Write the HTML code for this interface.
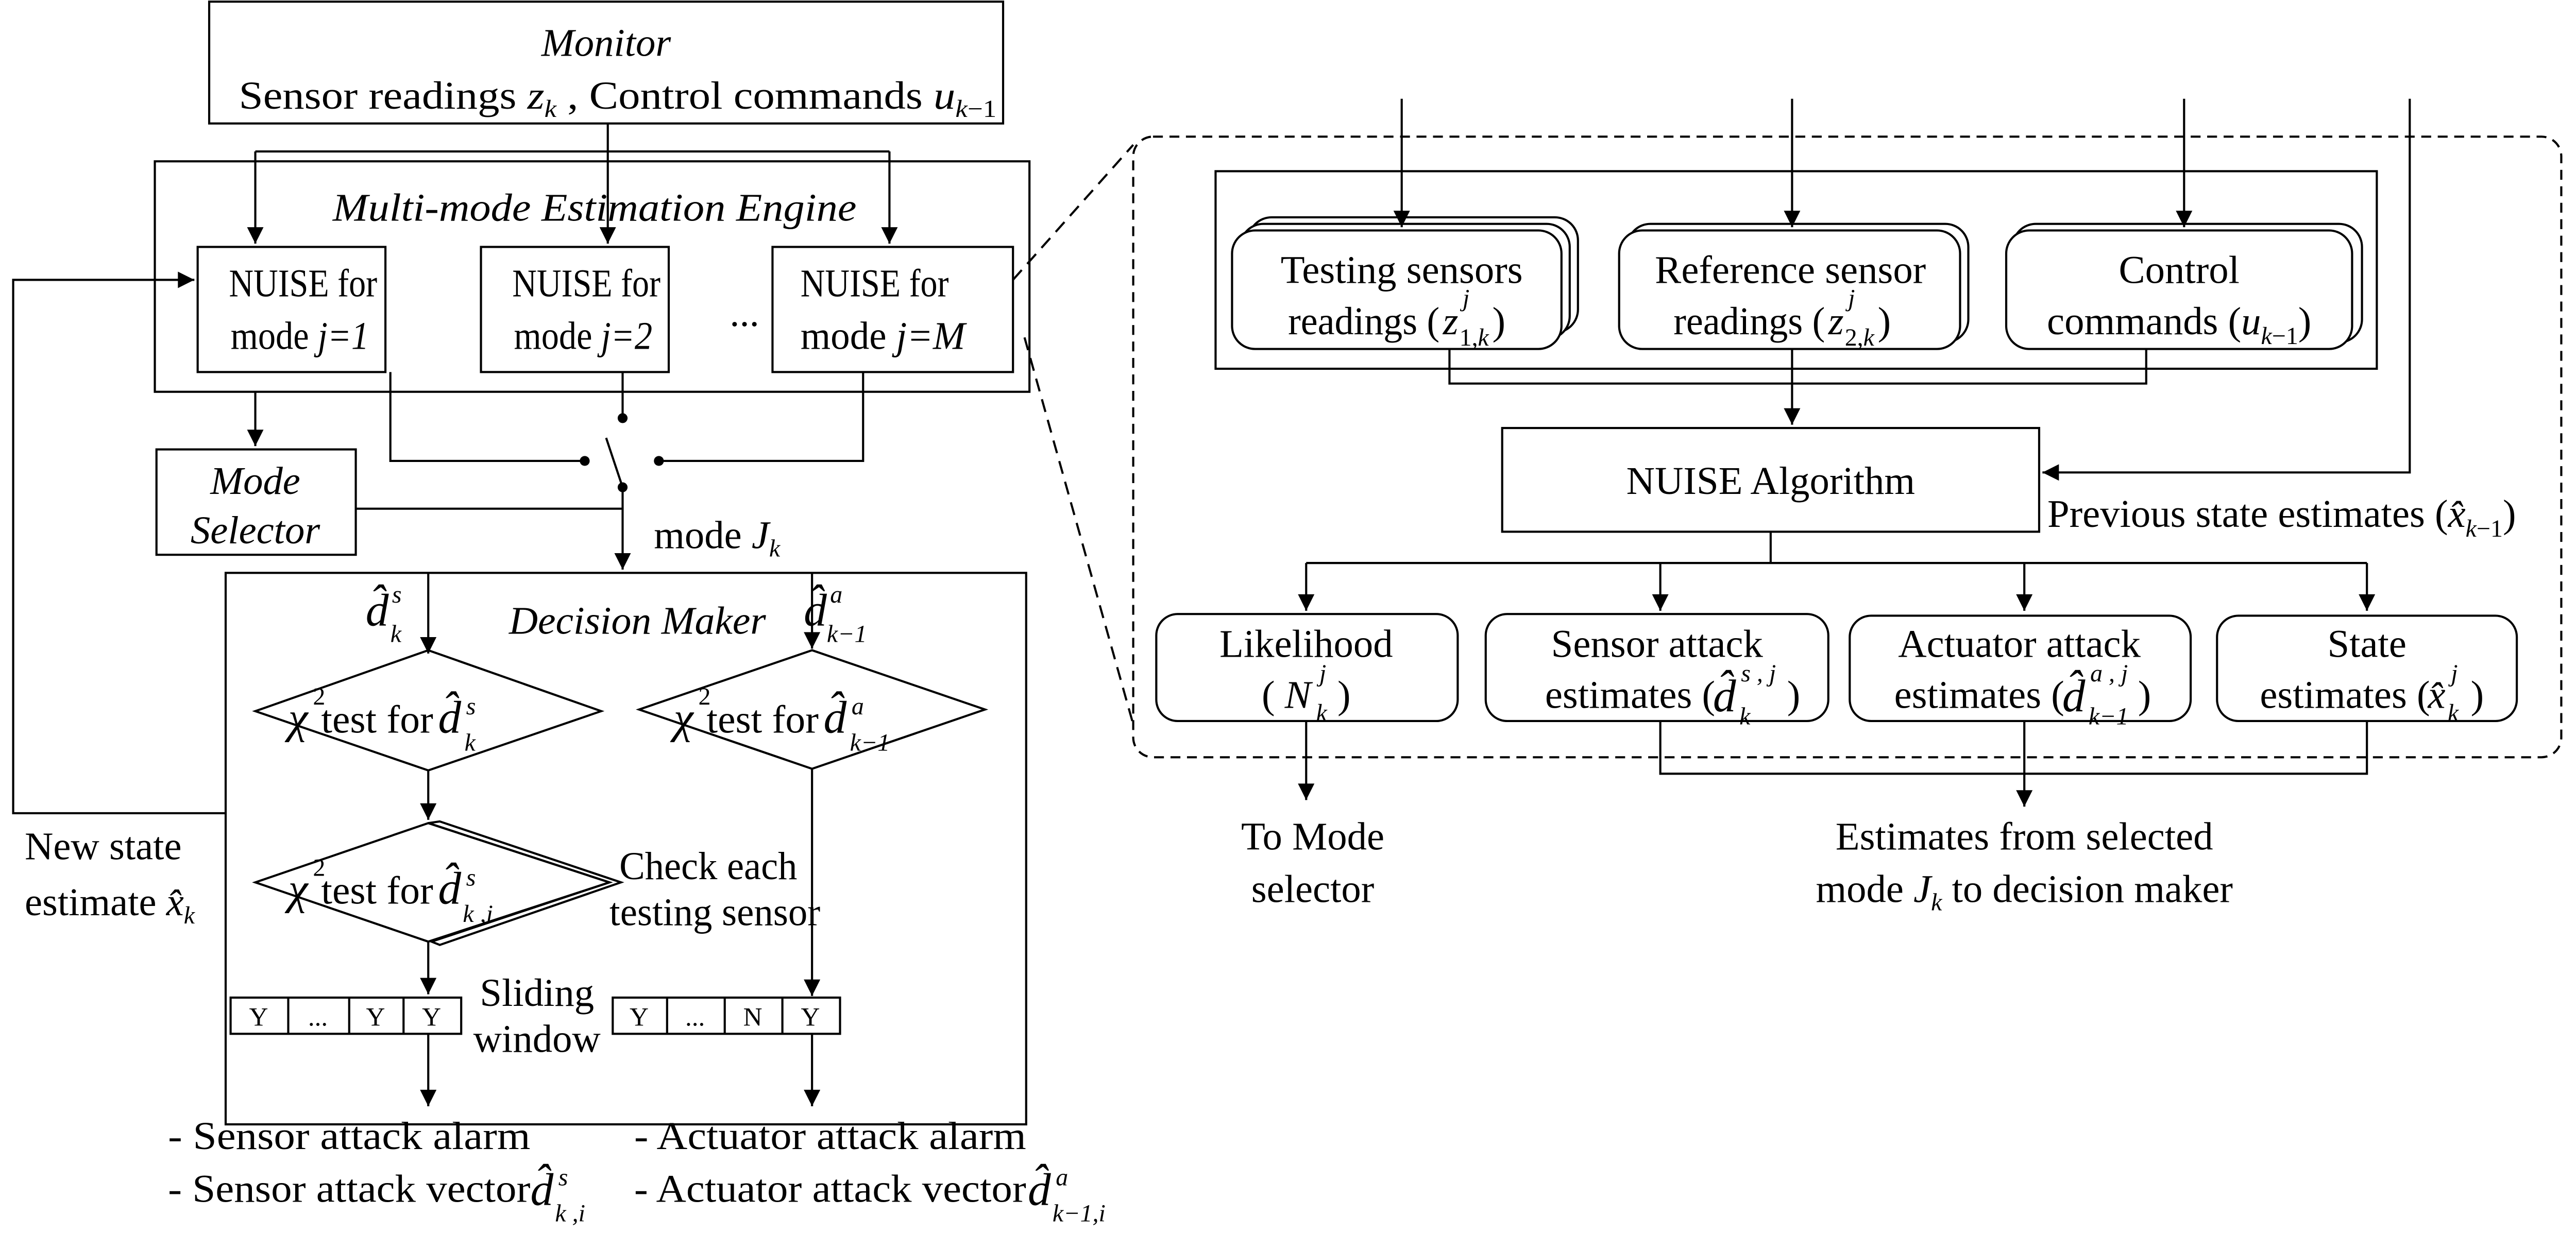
<!DOCTYPE html>
<html><head><meta charset="utf-8"><style>
html,body{margin:0;padding:0;background:#fff;}
svg{display:block;}
text{font-family:"Liberation Serif",serif;fill:#000;}
.i{font-style:italic;}
</style></head><body>
<svg width="5013" height="2394" viewBox="0 0 1568 749" preserveAspectRatio="none" xmlns="http://www.w3.org/2000/svg">
<defs>
<marker id="b" viewBox="0 0 10 10" refX="10" refY="5" markerWidth="14" markerHeight="10" markerUnits="userSpaceOnUse" orient="auto"><path d="M0,0 L10,5 L0,10 z" fill="#000"/></marker>
</defs>
<g fill="none" stroke="#000" stroke-width="1.3">
<rect x="127" y="1" width="482" height="74"/>
<rect x="94" y="98" width="531" height="140"/>
<rect x="120" y="150" width="114" height="76"/>
<rect x="292" y="150" width="114" height="76"/>
<rect x="469" y="150" width="146" height="76"/>
<path d="M369 75 V148" marker-end="url(#b)"/>
<path d="M155 92 H540"/>
<path d="M155 92 V148" marker-end="url(#b)"/>
<path d="M540 92 V148" marker-end="url(#b)"/>
<path d="M137 494 H8 V170 H118" marker-end="url(#b)"/>
<path d="M155 238 V271" marker-end="url(#b)"/>
<rect x="95" y="273" width="121" height="64"/>
<path d="M216 309 H378"/>
<path d="M237 226 V280 H355"/>
<path d="M378 226 V254"/>
<path d="M524 226 V280 H400"/>
<path d="M378 296 L368 266"/>
<path d="M378 296 V346" marker-end="url(#b)"/>
<rect x="137" y="348" width="486" height="335"/>
<path d="M260 348 V397" marker-end="url(#b)"/>
<path d="M493 348 V394" marker-end="url(#b)"/>
<polygon points="260,395 365,432 260,468 155,432"/>
<polygon points="493,395 598,431 493,467 388,431"/>
<path d="M260 468 V498" marker-end="url(#b)"/>
<polygon points="267,499 377,536 267,574 262,572 370,536 260,500"/>
<polygon points="260,500 370,536 260,572 155,536"/>
<path d="M260 572 V604" marker-end="url(#b)"/>
<path d="M493 467 V605" marker-end="url(#b)"/>
<rect x="140" y="606" width="140" height="22"/>
<path d="M175 606 V628 M212 606 V628 M245 606 V628"/>
<rect x="372" y="606" width="138" height="22"/>
<path d="M405 606 V628 M440 606 V628 M475 606 V628"/>
<path d="M260 628 V672" marker-end="url(#b)"/>
<path d="M493 628 V672" marker-end="url(#b)"/>
<path d="M615 170 L688 88 M622 205 L688 440" stroke-dasharray="8,5"/>
<rect x="688" y="83" width="867" height="377" rx="12" stroke-dasharray="6,4"/>
<rect x="738" y="104" width="705" height="120"/>
<rect x="758" y="132" width="200" height="70" rx="14"/>
<rect x="753" y="136" width="200" height="70" rx="14" fill="#fff"/>
<rect x="748" y="140" width="200" height="72" rx="14" fill="#fff"/>
<rect x="988" y="136" width="207" height="72" rx="14"/>
<rect x="983" y="140" width="207" height="72" rx="14" fill="#fff"/>
<rect x="1222" y="136" width="212" height="72" rx="14"/>
<rect x="1218" y="140" width="210" height="72" rx="14" fill="#fff"/>
<path d="M851 60 V138" marker-end="url(#b)"/>
<path d="M1088 60 V138" marker-end="url(#b)"/>
<path d="M1326 60 V138" marker-end="url(#b)"/>
<path d="M1463 60 V287 H1240" marker-end="url(#b)"/>
<path d="M880 212 V233 H1303 V212"/>
<path d="M1088 212 V258" marker-end="url(#b)"/>
<rect x="912" y="260" width="326" height="63"/>
<path d="M1075 323 V342"/>
<path d="M793 342 H1437"/>
<path d="M793 342 V371" marker-end="url(#b)"/>
<path d="M1008 342 V371" marker-end="url(#b)"/>
<path d="M1229 342 V371" marker-end="url(#b)"/>
<path d="M1437 342 V371" marker-end="url(#b)"/>
<rect x="702" y="373" width="183" height="65" rx="13"/>
<rect x="902" y="373" width="208" height="65" rx="13"/>
<rect x="1123" y="374" width="207" height="64" rx="13"/>
<rect x="1346" y="374" width="182" height="64" rx="13"/>
<path d="M793 438 V486" marker-end="url(#b)"/>
<path d="M1008 438 V470 H1437 V438"/>
<path d="M1229 438 V490" marker-end="url(#b)"/>
</g>
<g fill="#000">
<circle cx="355" cy="280" r="3"/><circle cx="378" cy="254" r="3"/><circle cx="400" cy="280" r="3"/><circle cx="378" cy="296" r="3"/>
</g>
<g font-size="24">
<text x="368" y="34" text-anchor="middle" class="i">Monitor</text>
<text x="145" y="66" textLength="460" lengthAdjust="spacingAndGlyphs">Sensor readings <tspan class="i">z</tspan><tspan class="i" font-size="15" dy="5">k</tspan><tspan dy="-5"> , Control commands </tspan><tspan class="i">u</tspan><tspan class="i" font-size="15" dy="5">k</tspan><tspan font-size="15">−1</tspan></text>
<text x="202" y="134" class="i" textLength="318" lengthAdjust="spacingAndGlyphs">Multi-mode Estimation Engine</text>
<text x="139" y="180" textLength="90" lengthAdjust="spacingAndGlyphs">NUISE for</text>
<text x="140" y="212" textLength="84" lengthAdjust="spacingAndGlyphs">mode <tspan class="i">j=1</tspan></text>
<text x="311" y="180" textLength="90" lengthAdjust="spacingAndGlyphs">NUISE for</text>
<text x="312" y="212" textLength="84" lengthAdjust="spacingAndGlyphs">mode <tspan class="i">j=2</tspan></text>
<text x="443" y="198">...</text>
<text x="486" y="180" textLength="90" lengthAdjust="spacingAndGlyphs">NUISE for</text>
<text x="486" y="212" textLength="100" lengthAdjust="spacingAndGlyphs">mode <tspan class="i">j=M</tspan></text>
<text x="155" y="300" text-anchor="middle" class="i">Mode</text>
<text x="155" y="330" text-anchor="middle" class="i">Selector</text>
<text x="397" y="333">mode <tspan class="i">J</tspan><tspan class="i" font-size="15" dy="5">k</tspan></text>
<text x="309" y="385" class="i" textLength="156" lengthAdjust="spacingAndGlyphs">Decision Maker</text>
<text x="222" y="380" class="i" font-size="28">d̂</text><text x="238" y="366" class="i" font-size="15">s</text><text x="237" y="390" class="i" font-size="15">k</text>
<text x="488" y="380" class="i" font-size="28">d̂</text><text x="504" y="366" class="i" font-size="15">a</text><text x="502" y="390" class="i" font-size="15">k−1</text>
<text x="175" y="445" class="i" font-size="27">χ</text><text x="190" y="428" font-size="15">2</text><text x="195" y="445" textLength="68" lengthAdjust="spacingAndGlyphs">test for</text><text x="266" y="445" class="i" font-size="28">d̂</text><text x="283" y="434" class="i" font-size="15">s</text><text x="282" y="456" class="i" font-size="15">k</text>
<text x="409" y="445" class="i" font-size="27">χ</text><text x="424" y="428" font-size="15">2</text><text x="429" y="445" textLength="68" lengthAdjust="spacingAndGlyphs">test for</text><text x="500" y="445" class="i" font-size="28">d̂</text><text x="517" y="434" class="i" font-size="15">a</text><text x="516" y="456" class="i" font-size="15">k−1</text>
<text x="175" y="549" class="i" font-size="27">χ</text><text x="190" y="532" font-size="15">2</text><text x="195" y="549" textLength="68" lengthAdjust="spacingAndGlyphs">test for</text><text x="266" y="549" class="i" font-size="28">d̂</text><text x="283" y="538" class="i" font-size="15">s</text><text x="281" y="560" class="i" font-size="15">k ,i</text>
<text x="376" y="534" textLength="108" lengthAdjust="spacingAndGlyphs">Check each</text>
<text x="370" y="562" textLength="128" lengthAdjust="spacingAndGlyphs">testing sensor</text>
<text x="326" y="611" text-anchor="middle">Sliding</text>
<text x="326" y="639" text-anchor="middle">window</text>
<g font-size="16" text-anchor="middle">
<text x="157" y="623">Y</text><text x="193" y="623">...</text><text x="228" y="623">Y</text><text x="262" y="623">Y</text>
<text x="388" y="623">Y</text><text x="422" y="623">...</text><text x="457" y="623">N</text><text x="492" y="623">Y</text>
</g>
<text x="15" y="522">New state</text>
<text x="15" y="556">estimate <tspan class="i">x̂</tspan><tspan class="i" font-size="15" dy="5">k</tspan></text>
<text x="102" y="698" textLength="220" lengthAdjust="spacingAndGlyphs">- Sensor attack alarm</text>
<text x="102" y="730" textLength="220" lengthAdjust="spacingAndGlyphs">- Sensor attack vector</text><text x="322" y="732" class="i" font-size="28">d̂</text><text x="339" y="720" class="i" font-size="15">s</text><text x="337" y="742" class="i" font-size="15">k ,i</text>
<text x="385" y="698" textLength="238" lengthAdjust="spacingAndGlyphs">- Actuator attack alarm</text>
<text x="385" y="730" textLength="238" lengthAdjust="spacingAndGlyphs">- Actuator attack vector</text><text x="624" y="732" class="i" font-size="28">d̂</text><text x="641" y="720" class="i" font-size="15">a</text><text x="639" y="742" class="i" font-size="15">k−1,i</text>
<text x="851" y="172" text-anchor="middle">Testing sensors</text>
<text x="782" y="203" textLength="92" lengthAdjust="spacingAndGlyphs">readings (</text><text x="876" y="203" class="i">z</text><text x="888" y="186" class="i" font-size="15">j</text><text x="886" y="210" font-size="15">1,<tspan class="i">k</tspan></text><text x="906" y="203">)</text>
<text x="1087" y="172" text-anchor="middle">Reference sensor</text>
<text x="1016" y="203" textLength="92" lengthAdjust="spacingAndGlyphs">readings (</text><text x="1110" y="203" class="i">z</text><text x="1122" y="186" class="i" font-size="15">j</text><text x="1120" y="210" font-size="15">2,<tspan class="i">k</tspan></text><text x="1140" y="203">)</text>
<text x="1323" y="172" text-anchor="middle">Control</text>
<text x="1323" y="203" text-anchor="middle">commands (<tspan class="i">u</tspan><tspan class="i" font-size="15" dy="6">k</tspan><tspan font-size="15">−1</tspan><tspan dy="-6">)</tspan></text>
<text x="1075" y="300" text-anchor="middle">NUISE Algorithm</text>
<text x="1243" y="320">Previous state estimates (<tspan class="i">x̂</tspan><tspan class="i" font-size="15" dy="6">k</tspan><tspan font-size="15">−1</tspan><tspan dy="-6">)</tspan></text>
<text x="793" y="399" text-anchor="middle">Likelihood</text>
<text x="766" y="430">( <tspan class="i">N</tspan></text><text x="801" y="414" class="i" font-size="15">j</text><text x="799" y="438" class="i" font-size="15">k</text><text x="812" y="430">)</text>
<text x="1006" y="399" text-anchor="middle">Sensor attack</text>
<text x="938" y="430">estimates (</text><text x="1040" y="432" class="i" font-size="28">d̂</text><text x="1057" y="414" class="i" font-size="15">s , j</text><text x="1056" y="440" class="i" font-size="15">k</text><text x="1085" y="430">)</text>
<text x="1226" y="399" text-anchor="middle">Actuator attack</text>
<text x="1150" y="430">estimates (</text><text x="1252" y="432" class="i" font-size="28">d̂</text><text x="1269" y="414" class="i" font-size="15">a , j</text><text x="1268" y="440" class="i" font-size="15">k−1</text><text x="1298" y="430">)</text>
<text x="1437" y="399" text-anchor="middle">State</text>
<text x="1372" y="430">estimates (</text><text x="1474" y="430" class="i">x̂</text><text x="1488" y="414" class="i" font-size="15">j</text><text x="1486" y="438" class="i" font-size="15">k</text><text x="1500" y="430">)</text>
<text x="797" y="516" text-anchor="middle">To Mode</text>
<text x="797" y="548" text-anchor="middle">selector</text>
<text x="1229" y="516" text-anchor="middle">Estimates from selected</text>
<text x="1229" y="548" text-anchor="middle">mode <tspan class="i">J</tspan><tspan class="i" font-size="15" dy="5">k</tspan><tspan dy="-5"> to decision maker</tspan></text>
</g>
</svg>
</body></html>
